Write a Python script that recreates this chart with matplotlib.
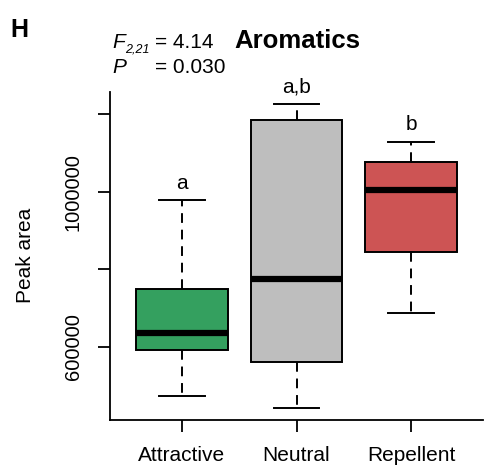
# Boxplot: Aromatics peak area
import matplotlib.pyplot as plt

plt.rcParams['font.family'] = ['Liberation Sans', 'DejaVu Sans']

groups = ['Attractive', 'Neutral', 'Repellent']
whislo = [474000, 442000, 688000]
q1 = [592000, 560000, 844000]
med = [637000, 775000, 1004000]
q3 = [749000, 1186000, 1078000]
whishi = [979000, 1227000, 1130000]
letters = ['a', 'a,b', 'b']
colors = ['#34A05F', '#BEBEBE', '#CD5454']
yticks = [600000, 800000, 1000000, 1200000]
ylabels = ['600000', '', '1000000', '']

W, H = 486, 472
fig = plt.figure(figsize=(W / 100, H / 100), dpi=100)
ax = fig.add_axes([110 / W, 1 - 420 / H, (483 - 110) / W, (420 - 92) / H])

stats = []
for i in range(len(groups)):
    stats.append(dict(whislo=whislo[i], q1=q1[i], med=med[i], q3=q3[i],
                      whishi=whishi[i], fliers=[], label=groups[i]))

bp = ax.bxp(stats, positions=[1, 2, 3], widths=0.8, patch_artist=True,
            showfliers=False,
            boxprops=dict(linewidth=1.4, edgecolor='black'),
            medianprops=dict(color='black', linewidth=4.5, solid_capstyle='butt'),
            whiskerprops=dict(color='black', linewidth=1.4, linestyle=(0, (5, 3.5))),
            capprops=dict(color='black', linewidth=1.4),
            capwidths=0.4)
for patch, c in zip(bp['boxes'], colors):
    patch.set_facecolor(c)

for i in range(len(groups)):
    ax.annotate(letters[i], (i + 1, whishi[i]), xytext=(0, 8),
                textcoords='offset points', ha='center', va='baseline', fontsize=15)

ax.set_xlim(0.374, 3.626)
ax.set_ylim(411600, 1258000)
ax.set_xticks([1, 2, 3])
ax.set_xticklabels(groups, fontsize=15)
ax.set_yticks(yticks)
ax.set_yticklabels(ylabels, fontsize=14.5, rotation=90, va='center')
ax.tick_params(length=8.5, width=1.3)
ax.tick_params(axis='x', pad=10)
ax.tick_params(axis='y', pad=11)
for s in ['top', 'right']:
    ax.spines[s].set_visible(False)
for s in ['left', 'bottom']:
    ax.spines[s].set_linewidth(1.3)
ax.set_ylabel('Peak area', fontsize=15)
ax.yaxis.set_label_coords(-0.202, 0.503)

def px(x, y):
    return x / W, 1 - y / H

fig.text(*px(10, 37), 'H', fontsize=18, fontweight='bold', va='baseline')
fig.text(*px(112, 48), 'F', fontsize=15, style='italic', va='baseline')
fig.text(*px(125, 53), '2,21', fontsize=9, style='italic', va='baseline')
fig.text(*px(155, 48), '= 4.14', fontsize=15, va='baseline')
fig.text(*px(112, 73), 'P', fontsize=15, style='italic', va='baseline')
fig.text(*px(155, 73), '= 0.030', fontsize=15, va='baseline')
fig.text(*px(234, 48), 'Aromatics', fontsize=18.5, fontweight='bold', va='baseline')

fig.savefig('out.png', dpi=100)
